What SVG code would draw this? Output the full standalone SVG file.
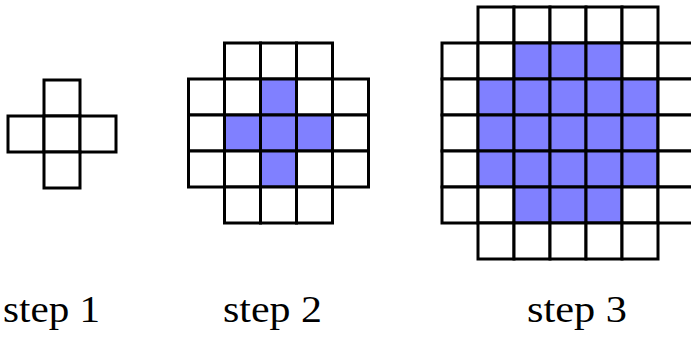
<svg xmlns="http://www.w3.org/2000/svg" width="691" height="337" viewBox="0 0 691 337">
<style>
rect{stroke:#000;stroke-width:3;width:36px;height:36px}
.w{fill:#fff}
.b{fill:#8080ff}
text{font-family:"Liberation Serif","Times New Roman",serif;font-size:38px;fill:#000}
</style>
<rect x="0" y="0" width="691" height="337" style="fill:#fff;stroke:none;width:691px;height:337px"/>
<g id="step1">
<rect class="w" x="44" y="80" width="36" height="36"/>
<rect class="w" x="8" y="116" width="36" height="36"/>
<rect class="w" x="44" y="116" width="36" height="36"/>
<rect class="w" x="80" y="116" width="36" height="36"/>
<rect class="w" x="44" y="152" width="36" height="36"/>
</g>
<g id="step2">
<rect class="w" x="224.5" y="43" width="36" height="36"/>
<rect class="w" x="260.5" y="43" width="36" height="36"/>
<rect class="w" x="296.5" y="43" width="36" height="36"/>
<rect class="w" x="188.5" y="79" width="36" height="36"/>
<rect class="w" x="224.5" y="79" width="36" height="36"/>
<rect class="b" x="260.5" y="79" width="36" height="36"/>
<rect class="w" x="296.5" y="79" width="36" height="36"/>
<rect class="w" x="332.5" y="79" width="36" height="36"/>
<rect class="w" x="188.5" y="115" width="36" height="36"/>
<rect class="b" x="224.5" y="115" width="36" height="36"/>
<rect class="b" x="260.5" y="115" width="36" height="36"/>
<rect class="b" x="296.5" y="115" width="36" height="36"/>
<rect class="w" x="332.5" y="115" width="36" height="36"/>
<rect class="w" x="188.5" y="151" width="36" height="36"/>
<rect class="w" x="224.5" y="151" width="36" height="36"/>
<rect class="b" x="260.5" y="151" width="36" height="36"/>
<rect class="w" x="296.5" y="151" width="36" height="36"/>
<rect class="w" x="332.5" y="151" width="36" height="36"/>
<rect class="w" x="224.5" y="187" width="36" height="36"/>
<rect class="w" x="260.5" y="187" width="36" height="36"/>
<rect class="w" x="296.5" y="187" width="36" height="36"/>
</g>
<g id="step3">
<rect class="w" x="478" y="7" width="36" height="36"/>
<rect class="w" x="514" y="7" width="36" height="36"/>
<rect class="w" x="550" y="7" width="36" height="36"/>
<rect class="w" x="586" y="7" width="36" height="36"/>
<rect class="w" x="622" y="7" width="36" height="36"/>
<rect class="w" x="442" y="43" width="36" height="36"/>
<rect class="w" x="478" y="43" width="36" height="36"/>
<rect class="b" x="514" y="43" width="36" height="36"/>
<rect class="b" x="550" y="43" width="36" height="36"/>
<rect class="b" x="586" y="43" width="36" height="36"/>
<rect class="w" x="622" y="43" width="36" height="36"/>
<rect class="w" x="658" y="43" width="36" height="36"/>
<rect class="w" x="442" y="79" width="36" height="36"/>
<rect class="b" x="478" y="79" width="36" height="36"/>
<rect class="b" x="514" y="79" width="36" height="36"/>
<rect class="b" x="550" y="79" width="36" height="36"/>
<rect class="b" x="586" y="79" width="36" height="36"/>
<rect class="b" x="622" y="79" width="36" height="36"/>
<rect class="w" x="658" y="79" width="36" height="36"/>
<rect class="w" x="442" y="115" width="36" height="36"/>
<rect class="b" x="478" y="115" width="36" height="36"/>
<rect class="b" x="514" y="115" width="36" height="36"/>
<rect class="b" x="550" y="115" width="36" height="36"/>
<rect class="b" x="586" y="115" width="36" height="36"/>
<rect class="b" x="622" y="115" width="36" height="36"/>
<rect class="w" x="658" y="115" width="36" height="36"/>
<rect class="w" x="442" y="151" width="36" height="36"/>
<rect class="b" x="478" y="151" width="36" height="36"/>
<rect class="b" x="514" y="151" width="36" height="36"/>
<rect class="b" x="550" y="151" width="36" height="36"/>
<rect class="b" x="586" y="151" width="36" height="36"/>
<rect class="b" x="622" y="151" width="36" height="36"/>
<rect class="w" x="658" y="151" width="36" height="36"/>
<rect class="w" x="442" y="187" width="36" height="36"/>
<rect class="w" x="478" y="187" width="36" height="36"/>
<rect class="b" x="514" y="187" width="36" height="36"/>
<rect class="b" x="550" y="187" width="36" height="36"/>
<rect class="b" x="586" y="187" width="36" height="36"/>
<rect class="w" x="622" y="187" width="36" height="36"/>
<rect class="w" x="658" y="187" width="36" height="36"/>
<rect class="w" x="478" y="223" width="36" height="36"/>
<rect class="w" x="514" y="223" width="36" height="36"/>
<rect class="w" x="550" y="223" width="36" height="36"/>
<rect class="w" x="586" y="223" width="36" height="36"/>
<rect class="w" x="622" y="223" width="36" height="36"/>
</g>
<g id="labels">
<text x="3" y="322" textLength="97" lengthAdjust="spacingAndGlyphs">step 1</text>
<text x="223" y="322" textLength="99" lengthAdjust="spacingAndGlyphs">step 2</text>
<text x="527" y="322" textLength="100" lengthAdjust="spacingAndGlyphs">step 3</text>
</g>
</svg>
